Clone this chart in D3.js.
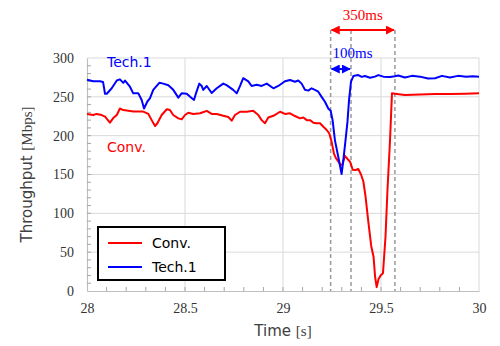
<!DOCTYPE html>
<html>
<head>
<meta charset="utf-8">
<script src="https://cdn.jsdelivr.net/npm/d3@7"></script>
<style>
  html, body { margin: 0; padding: 0; background: #fff; }
  svg { display: block; }
</style>
</head>
<body>
<svg id="chart" width="500" height="346"></svg>
<script>
// Throughput over time for the conventional scheme and Tech.1
const convTime = [28.000, 28.032, 28.049, 28.075, 28.092, 28.117, 28.134, 28.152, 28.168, 28.185,
  28.211, 28.236, 28.262, 28.287, 28.313, 28.330, 28.347, 28.359, 28.381, 28.407,
  28.423, 28.440, 28.466, 28.483, 28.500, 28.517, 28.542, 28.577, 28.611, 28.636,
  28.662, 28.695, 28.721, 28.738, 28.755, 28.781, 28.815, 28.848, 28.874, 28.891,
  28.908, 28.925, 28.951, 28.985, 29.010, 29.036, 29.061, 29.087, 29.104, 29.121,
  29.138, 29.155, 29.170, 29.189, 29.206, 29.223, 29.236, 29.248, 29.260, 29.270,
  29.282, 29.294, 29.303, 29.316, 29.329, 29.342, 29.356, 29.370, 29.384, 29.398,
  29.410, 29.421, 29.435, 29.450, 29.462, 29.470, 29.478, 29.487, 29.498, 29.510,
  29.523, 29.533, 29.546, 29.556, 29.571, 29.622, 29.699, 29.776, 29.852, 29.929, 30.000];
const convMbps = [228, 226.6, 228, 226.5, 224.5, 216.7, 222.6, 226.6, 235, 233,
  232, 231, 231, 231, 228, 220, 212.4, 216, 226.6, 234,
  233, 226.6, 222.3, 221, 226.6, 229.5, 228, 228.8, 232, 228,
  228, 225.6, 224, 219.3, 226.6, 230.8, 230.8, 232, 226.6, 220,
  216, 223.4, 225.6, 230.8, 228, 228.8, 225.3, 222.3, 223.4, 220,
  220, 216.7, 216, 216, 211.5, 207.3, 203, 192, 177, 171,
  167, 162, 163, 174, 170, 166.5, 156, 155.8, 157, 150,
  141, 122, 90, 58, 44, 18, 5, 15, 20, 22.8,
  70, 130, 194, 254.5, 254, 252.5, 253, 253.5, 253.5, 254, 254.5];

const techTime = [28.000, 28.032, 28.066, 28.082, 28.092, 28.101, 28.126, 28.152, 28.168, 28.185,
  28.194, 28.219, 28.236, 28.262, 28.279, 28.291, 28.308, 28.321, 28.338, 28.369,
  28.389, 28.415, 28.440, 28.466, 28.483, 28.509, 28.526, 28.546, 28.556, 28.573,
  28.585, 28.593, 28.611, 28.636, 28.662, 28.695, 28.712, 28.746, 28.764, 28.781,
  28.797, 28.823, 28.840, 28.866, 28.891, 28.917, 28.951, 28.976, 29.010, 29.036,
  29.061, 29.078, 29.095, 29.112, 29.129, 29.146, 29.163, 29.180, 29.197, 29.214,
  29.231, 29.243, 29.253, 29.265, 29.287, 29.299, 29.308, 29.321, 29.329, 29.337,
  29.347, 29.359, 29.384, 29.402, 29.418, 29.444, 29.469, 29.486, 29.512, 29.546,
  29.571, 29.588, 29.622, 29.658, 29.699, 29.740, 29.776, 29.811, 29.852, 29.893,
  29.934, 29.969, 30.000];
const techMbps = [272, 270, 270, 269, 254, 254, 261, 271, 272.5, 268,
  271, 263, 254.5, 254.5, 246, 235, 244, 248, 259, 268,
  267, 265, 259, 249, 254.5, 254, 250, 246, 254.5, 267,
  264, 259, 264, 255, 261, 267, 265, 259, 254.5, 264,
  274, 270, 264, 265.5, 264, 267, 261, 264, 270, 271.7,
  269.5, 271, 267, 259, 258, 261, 259, 256.6, 250, 243.7,
  235, 232, 220, 194, 166.5, 150.5, 168.7, 198.7, 218, 246,
  269.5, 276.8, 278, 275.7, 276.8, 274.5, 276, 278, 276, 275.5,
  276.5, 277.5, 275, 277, 276, 273.5, 274, 277, 275, 277,
  276, 276.5, 276];

const xTicks = [28, 28.5, 29, 29.5, 30];
const xTickLabels = ["28", "28.5", "29", "29.5", "30"];
const yTicks = [0, 50, 100, 150, 200, 250, 300];

// Event markers (s) and interval annotations
const markers = [29.243, 29.347, 29.571];
const intervals = [
  { from: 29.243, to: 29.571, label: "350ms", color: "#ff0000" },
  { from: 29.243, to: 29.347, label: "100ms", color: "#0000ff" }
];

const legendItems = [
  { label: "Conv.", color: "#ff0000" },
  { label: "Tech.1", color: "#0000ff" }
];

const svg = d3.select("#chart");
const x = d3.scaleLinear().domain([28, 30]).range([87, 479]);
const y = d3.scaleLinear().domain([0, 300]).range([291, 58]);

const serif = "'Liberation Serif', 'Times New Roman', serif";
const sans = "'DejaVu Sans', Verdana, sans-serif";

// Grid
const grid = svg.append("g");
grid.selectAll("line.h").data(yTicks.filter(d => d > 0)).join("line")
  .attr("x1", x(28)).attr("x2", x(30))
  .attr("y1", d => y(d)).attr("y2", d => y(d))
  .attr("stroke", "#d9d9d9").attr("stroke-width", 1);
grid.selectAll("line.v").data(xTicks.filter(d => d > 28)).join("line")
  .attr("x1", d => x(d)).attr("x2", d => x(d))
  .attr("y1", y(0)).attr("y2", y(300))
  .attr("stroke", "#d9d9d9").attr("stroke-width", 1);

// Axes
const xAxis = d3.axisBottom(x).tickValues(xTicks)
  .tickFormat((d, i) => xTickLabels[i]).tickSize(0).tickPadding(12);
const gx = svg.append("g").attr("transform", `translate(0,${y(0)})`).call(xAxis);
gx.select(".domain").attr("stroke", "#bfbfbf").attr("stroke-width", 1.2);
gx.selectAll("text").attr("font-family", serif).attr("font-size", 14).attr("fill", "#333");

const yAxis = d3.axisLeft(y).tickValues(yTicks).tickSize(0).tickPadding(13);
const gy = svg.append("g").attr("transform", `translate(${x(28)},0)`).call(yAxis);
gy.select(".domain").attr("stroke", "#bfbfbf").attr("stroke-width", 1.2);
gy.selectAll("text").attr("font-family", serif).attr("font-size", 14).attr("fill", "#333");

// Minor ticks, drawn inward
const xMinor = d3.range(28.1, 30, 0.1);
svg.append("g").selectAll("line").data(xMinor).join("line")
  .attr("x1", d => x(d)).attr("x2", d => x(d))
  .attr("y1", y(0)).attr("y2", y(0) - 4)
  .attr("stroke", "#a6a6a6").attr("stroke-width", 1);
const yMinor = d3.range(10, 300, 10);
svg.append("g").selectAll("line").data(yMinor).join("line")
  .attr("x1", x(28)).attr("x2", x(28) + 4)
  .attr("y1", d => y(d)).attr("y2", d => y(d))
  .attr("stroke", "#a6a6a6").attr("stroke-width", 1);

// Axis titles
const xTitle = svg.append("text").attr("x", x(29)).attr("y", 336)
  .attr("text-anchor", "middle").attr("fill", "#404040");
xTitle.append("tspan").attr("font-family", sans).attr("font-size", 15).text("Time ");
xTitle.append("tspan").attr("font-family", serif).attr("font-size", 15).text("[s]");

const yTitle = svg.append("text")
  .attr("transform", `translate(32,${(y(0) + y(300)) / 2}) rotate(-90)`)
  .attr("text-anchor", "middle").attr("fill", "#404040");
yTitle.append("tspan").attr("font-family", sans).attr("font-size", 15).text("Throughput ");
yTitle.append("tspan").attr("font-family", serif).attr("font-size", 15).text("[Mbps]");

// Marker lines
svg.append("g").selectAll("line").data(markers).join("line")
  .attr("x1", d => x(d)).attr("x2", d => x(d))
  .attr("y1", 30).attr("y2", y(0))
  .attr("stroke", "#999").attr("stroke-width", 1.5).attr("stroke-dasharray", "4,3");

// Series
const line = d3.line().x(d => x(d[0])).y(d => y(d[1]));
svg.append("path").datum(d3.zip(convTime, convMbps))
  .attr("d", line).attr("fill", "none").attr("stroke", "#ff0000")
  .attr("stroke-width", 2).attr("stroke-linejoin", "round");
svg.append("path").datum(d3.zip(techTime, techMbps))
  .attr("d", line).attr("fill", "none").attr("stroke", "#0000ff")
  .attr("stroke-width", 2).attr("stroke-linejoin", "round");

// Series labels
svg.append("text").attr("x", 107).attr("y", 67).attr("font-family", sans)
  .attr("font-size", 14).attr("fill", "#0000ff").text("Tech.1");
svg.append("text").attr("x", 107).attr("y", 152).attr("font-family", sans)
  .attr("font-size", 14).attr("fill", "#ff0000").text("Conv.");

// Interval arrows
const defs = svg.append("defs");
intervals.forEach((iv, i) => {
  const id = "arrow" + i;
  defs.append("marker").attr("id", id).attr("viewBox", "0 0 10 10")
    .attr("refX", 9).attr("refY", 5).attr("markerWidth", 4.5).attr("markerHeight", 4.5)
    .attr("orient", "auto-start-reverse")
    .append("path").attr("d", "M0,0 L10,5 L0,10 z").attr("fill", iv.color);
});
const arrowY = [30, 69];
const labelY = [20, 58];
intervals.forEach((iv, i) => {
  svg.append("line")
    .attr("x1", x(iv.from) + 1).attr("x2", x(iv.to) - 1)
    .attr("y1", arrowY[i]).attr("y2", arrowY[i])
    .attr("stroke", iv.color).attr("stroke-width", 2)
    .attr("marker-start", `url(#arrow${i})`).attr("marker-end", `url(#arrow${i})`);
  svg.append("text").attr("x", i === 0 ? (x(iv.from) + x(iv.to)) / 2 : x(iv.from) + 22)
    .attr("y", labelY[i]).attr("text-anchor", "middle")
    .attr("font-family", serif).attr("font-size", 15).attr("fill", iv.color).text(iv.label);
});

// Legend
const lg = svg.append("g");
lg.append("rect").attr("x", 98).attr("y", 227).attr("width", 127).attr("height", 53)
  .attr("fill", "#fff").attr("stroke", "#000").attr("stroke-width", 2);
legendItems.forEach((it, i) => {
  const ly = 243 + i * 24;
  lg.append("line").attr("x1", 108).attr("x2", 142).attr("y1", ly).attr("y2", ly)
    .attr("stroke", it.color).attr("stroke-width", 2);
  lg.append("text").attr("x", 152).attr("y", ly + 5).attr("font-family", sans)
    .attr("font-size", 14).attr("fill", "#000").text(it.label);
});
</script>
</body>
</html>
